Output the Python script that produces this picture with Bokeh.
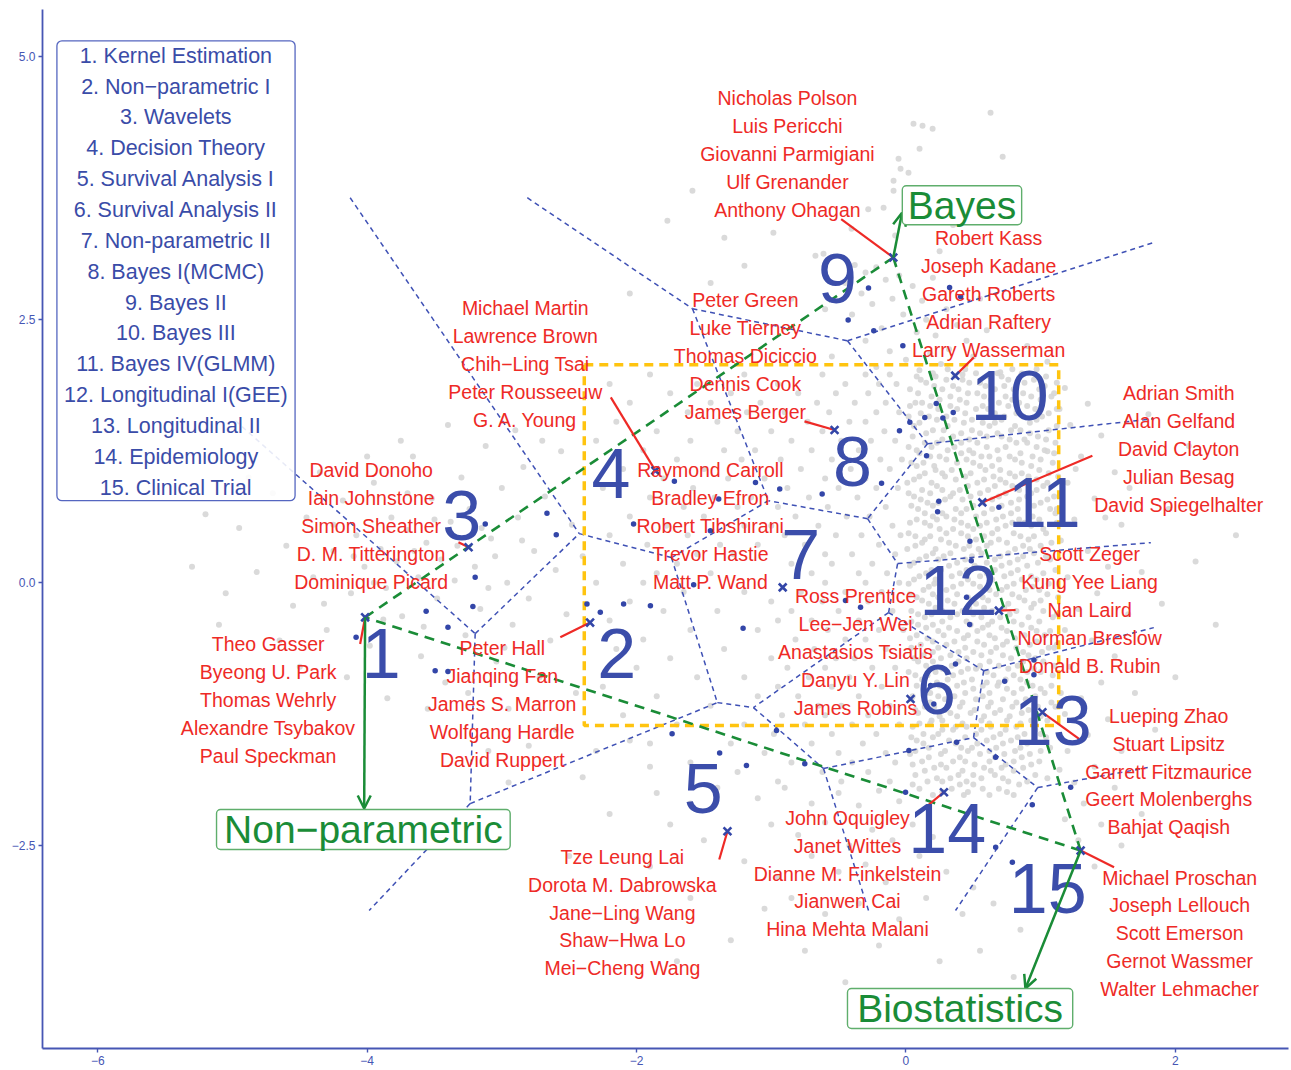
from bokeh.plotting import figure
from bokeh.models import FixedTicker, BoxAnnotation, Arrow, OpenHead
from bokeh.core.properties import value
from bokeh.embed import file_html
from bokeh.resources import INLINE

FONT = "Liberation Sans"
BLUE = "#3B4DAA"
AXIS_BLUE = "#4656B4"
RED = "#EE2A26"
GREEN = "#1A8C37"
GREEN_EDGE = "#5FAE6C"
GOLD = "#FFC40F"
GREY = "#D6D6D6"

# ---------------------------------------------------------------- topics
TOPICS = ["1. Kernel Estimation", "2. Non\u2212parametric I", "3. Wavelets",
          "4. Decision Theory", "5. Survival Analysis I", "6. Survival Analysis II",
          "7. Non-parametric II", "8. Bayes I(MCMC)", "9. Bayes II", "10. Bayes III",
          "11. Bayes IV(GLMM)", "12. Longitudinal I(GEE)", "13. Longitudinal II",
          "14. Epidemiology", "15. Clinical Trial"]

# cluster centres (x marks)
CENTER_X = [-4.015, -2.345, -3.247, -1.860, -1.325, 0.034, -0.915, -0.530,
            -0.094, 0.366, 0.567, 0.690, 1.013, 0.282, 1.297]
CENTER_Y = [-0.330, -0.380, 0.336, 1.065, -2.364, -1.106, -0.045, 1.452,
            3.092, 1.968, 0.763, -0.266, -1.233, -1.993, -2.548]

# big cluster numbers
NUM_X = [-3.895, -2.148, -3.298, -2.190, -1.505, 0.227, -0.781, -0.397,
         -0.509, 0.771, 1.027, 0.390, 1.090, 0.306, 1.052]
NUM_Y = [-0.670, -0.670, 0.640, 1.040, -1.955, -1.015, 0.270, 1.150,
         2.890, 1.780, 0.760, -0.075, -1.310, -2.335, -2.905]

# start of the red leader line of each author group (ends at the centre)
LEAD_X = [-4.052, -2.566, -3.322, -2.191, -1.386, 0.034, -0.915, -0.753,
          -0.481, 0.504, 1.384, 0.814, 1.285, 0.146, 1.545]
LEAD_Y = [-0.583, -0.520, 0.383, 1.761, -2.633, -1.106, -0.045, 1.533,
          3.457, 2.142, 1.207, -0.260, -1.486, -2.136, -2.706]

# top authors of each cluster
AUTHORS = [
    ["Theo Gasser", "Byeong U. Park", "Thomas Wehrly", "Alexandre Tsybakov", "Paul Speckman"],
    ["Peter Hall", "Jianqing Fan", "James S. Marron", "Wolfgang Hardle", "David Ruppert"],
    ["David Donoho", "Iain Johnstone", "Simon Sheather", "D. M. Titterington", "Dominique Picard"],
    ["Michael Martin", "Lawrence Brown", "Chih\u2212Ling Tsai", "Peter Rousseeuw", "G. A. Young"],
    ["Tze Leung Lai", "Dorota M. Dabrowska", "Jane\u2212Ling Wang", "Shaw\u2212Hwa Lo", "Mei\u2212Cheng Wang"],
    ["Ross Prentice", "Lee\u2212Jen Wei", "Anastasios Tsiatis", "Danyu Y. Lin", "James Robins"],
    ["Raymond Carroll", "Bradley Efron", "Robert Tibshirani", "Trevor Hastie", "Matt P. Wand"],
    ["Peter Green", "Luke Tierney", "Thomas Diciccio", "Dennis Cook", "James Berger"],
    ["Nicholas Polson", "Luis Pericchi", "Giovanni Parmigiani", "Ulf Grenander", "Anthony Ohagan"],
    ["Robert Kass", "Joseph Kadane", "Gareth Roberts", "Adrian Raftery", "Larry Wasserman"],
    ["Adrian Smith", "Alan Gelfand", "David Clayton", "Julian Besag", "David Spiegelhalter"],
    ["Scott Zeger", "Kung Yee Liang", "Nan Laird", "Norman Breslow", "Donald B. Rubin"],
    ["Lueping Zhao", "Stuart Lipsitz", "Garrett Fitzmaurice", "Geert Molenberghs", "Bahjat Qaqish"],
    ["John Oquigley", "Janet Wittes", "Dianne M. Finkelstein", "Jianwen Cai", "Hina Mehta Malani"],
    ["Michael Proschan", "Joseph Lellouch", "Scott Emerson", "Gernot Wassmer", "Walter Lehmacher"],
]
GROUP_X = [-4.735, -2.997, -3.970, -2.826, -2.105, -0.374, -1.452, -1.192,
           -0.880, 0.614, 2.025, 1.364, 1.951, -0.434, 2.032]
GROUP_Y = [-0.580, -0.618, 1.074, 2.614, -2.605, -0.124, 1.074, 2.690,
           4.610, 3.280, 1.806, 0.276, -1.264, -2.234, -2.804]
LINE_STEP = 0.266

# Voronoi partition of the cluster centres
VOR_X = [-4.126, -2.811, 1.855, 1.840, 1.818, 1.840, 1.795, 0.368, -0.278, -3.985,
         -4.978, -3.198, -3.235, -2.425, -1.741, -1.585, -0.434, -1.021, -0.285,
         0.160, -0.062, -0.129, 0.577, -1.132, -1.400, -0.612, 0.502, 0.978]
VOR_Y = [3.660, 3.660, 3.241, 1.559, 0.380, -0.428, -1.759, -3.118, -3.118, -3.118,
         1.540, -0.485, -2.101, 0.466, 0.238, 2.605, 2.300, 0.779, 0.608,
         1.321, 0.181, -0.285, -0.837, -1.188, -1.141, -1.768, -1.473, -1.949]
VOR_FROM = [0, 1, 10, 11, 11, 12, 12, 13, 14, 14, 15, 15, 16, 16, 19, 19,
            18, 18, 20, 20, 21, 21, 22, 22, 24, 23, 25, 25, 26, 27, 27]
VOR_TO = [13, 15, 11, 13, 12, 9, 24, 14, 17, 24, 16, 17, 2, 19, 3, 18,
          17, 20, 4, 21, 23, 22, 5, 26, 23, 25, 26, 8, 27, 6, 7]

# field triangle: Non-parametric / Bayes / Biostatistics corners
TRIANGLE = [0, 8, 14]

# highlighted region
BOX_LEFT, BOX_RIGHT, BOX_TOP, BOX_BOTTOM = -2.388, 1.134, 2.072, -1.359

# prominent authors (blue dots)
AUTHOR_PTS = [
    (-3.123, 0.558), (-2.665, 0.659), (-2.596, 0.456), (-3.198, 0.050), (-3.215, -0.228),
    (-3.562, -0.273), (-3.400, -0.425), (-4.082, -0.520), (-3.495, -0.837), (-3.400, -0.846),
    (-2.368, -0.202), (-2.269, -0.282), (-2.096, -0.202), (-1.897, -0.221), (-1.209, -0.434),
    (-1.719, 0.963), (-1.390, 0.796), (-1.117, 0.953), (-0.937, 0.891), (-0.622, 0.843),
    (-2.022, 0.558), (-1.452, 0.494), (-1.576, -0.019), (-0.181, 0.944), (-0.048, 1.445),
    (0.029, 1.524), (0.140, 1.571), (0.225, 1.704), (0.274, 1.566), (0.351, 1.619),
    (-0.023, 2.253), (0.153, 1.207), (0.244, 0.773), (0.235, 0.675), (0.690, 0.716),
    (0.475, 0.393), (0.485, 0.209), (0.450, -0.140), (0.473, -0.399), (-0.337, -0.235),
    (-0.449, -0.171), (0.368, -0.773), (0.207, -1.153), (0.183, -0.979), (0.733, -0.938),
    (0.950, -0.735), (0.950, -0.877), (-1.736, -1.438), (-0.961, -1.407), (0.376, -1.518),
    (0.666, -1.661), (0.022, -1.597), (1.223, -1.946), (0.938, -2.113), (-0.003, -1.993),
    (0.666, -2.516), (0.790, -2.659), (-1.383, -1.619), (-1.184, -1.740), (-0.751, -1.723),
    (-0.278, 2.801), (-0.429, 2.497), (-0.239, 2.395), (0.324, 2.807), (0.406, 2.719),
]

# all other authors (grey cloud), dense band on the right, row by row
DENSE_ROWS = [
    (2.03, [0.31, 0.44, 0.79, 0.97]),
    (1.96, [0.08, 0.22, 0.36, 0.62, 0.71, 1.04]),
    (1.90, [0.15, 0.47, 0.55, 0.88, 1.12]),
    (1.84, [0.03, 0.27, 0.39, 0.66, 0.80, 0.99]),
    (1.77, [0.19, 0.33, 0.58, 0.74, 0.93, 1.08]),
    (1.71, [0.07, 0.12, 0.45, 0.69, 0.84]),
    (1.65, [0.24, 0.38, 0.52, 0.61, 0.96, 1.14]),
    (1.58, [0.02, 0.17, 0.30, 0.73, 0.87, 1.01]),
    (1.52, [0.10, 0.43, 0.57, 0.66, 0.92]),
    (1.45, [0.20, 0.28, 0.49, 0.78, 0.85, 1.06]),
    (1.39, [0.05, 0.35, 0.60, 0.71, 0.98]),
    (1.33, [0.14, 0.23, 0.41, 0.53, 0.82, 0.90, 1.11]),
    (1.26, [0.08, 0.31, 0.47, 0.68, 1.03]),
    (1.20, [0.18, 0.25, 0.56, 0.62, 0.77, 0.94]),
    (1.14, [0.04, 0.13, 0.38, 0.50, 0.86, 1.09]),
    (1.07, [0.22, 0.34, 0.59, 0.70, 0.99]),
    (1.01, [0.10, 0.29, 0.44, 0.65, 0.81, 0.91, 1.13]),
    (0.95, [0.01, 0.19, 0.53, 0.74, 1.05]),
    (0.88, [0.12, 0.27, 0.40, 0.61, 0.84, 0.97]),
    (0.82, [0.06, 0.33, 0.48, 0.69, 0.90, 1.10]),
    (0.76, [0.16, 0.24, 0.57, 0.78, 1.00]),
    (0.70, [0.09, 0.37, 0.45, 0.64, 0.83, 1.07]),
    (0.63, [0.20, 0.30, 0.52, 0.72, 0.94]),
    (0.57, [0.03, 0.14, 0.41, 0.60, 0.79, 0.88, 1.12]),
    (0.51, [0.25, 0.35, 0.50, 0.68, 1.02]),
    (0.44, [0.07, 0.18, 0.46, 0.58, 0.85, 0.95]),
    (0.38, [0.12, 0.32, 0.63, 0.75, 1.08]),
    (0.32, [0.01, 0.22, 0.43, 0.54, 0.81, 0.92]),
    (0.25, [0.15, 0.28, 0.49, 0.70, 0.87, 1.04]),
    (0.19, [0.06, 0.38, 0.60, 0.77, 0.98]),
    (0.12, [0.19, 0.26, 0.45, 0.66, 0.83, 1.11]),
    (0.06, [0.10, 0.34, 0.55, 0.73, 0.93]),
    (-0.01, [0.02, 0.21, 0.41, 0.50, 0.80, 1.06]),
    (-0.07, [0.13, 0.30, 0.62, 0.71, 0.89, 0.99]),
    (-0.14, [0.08, 0.24, 0.46, 0.57, 0.84, 1.13]),
    (-0.20, [0.17, 0.36, 0.52, 0.76, 0.95]),
    (-0.27, [0.04, 0.27, 0.42, 0.64, 0.82, 1.02]),
    (-0.33, [0.14, 0.33, 0.56, 0.70, 0.91, 1.09]),
    (-0.40, [0.09, 0.20, 0.48, 0.61, 0.86]),
    (-0.46, [0.24, 0.38, 0.53, 0.75, 0.97, 1.07]),
    (-0.53, [0.03, 0.16, 0.43, 0.66, 0.81]),
    (-0.59, [0.11, 0.30, 0.58, 0.72, 0.92, 1.12]),
    (-0.66, [0.20, 0.39, 0.50, 0.63, 0.87, 1.01]),
    (-0.72, [0.06, 0.26, 0.45, 0.78, 0.96]),
    (-0.79, [0.15, 0.34, 0.55, 0.69, 0.83, 1.10]),
    (-0.85, [0.02, 0.22, 0.41, 0.60, 0.90, 1.00]),
    (-0.92, [0.12, 0.31, 0.49, 0.74, 0.85]),
    (-0.98, [0.08, 0.25, 0.38, 0.57, 0.68, 0.94, 1.08]),
    (-1.05, [0.18, 0.44, 0.62, 0.80, 1.03]),
    (-1.11, [0.04, 0.29, 0.52, 0.72, 0.89]),
    (-1.18, [0.14, 0.21, 0.40, 0.61, 0.79, 0.98, 1.11]),
    (-1.24, [0.09, 0.33, 0.48, 0.66, 0.86]),
    (-1.31, [0.19, 0.27, 0.56, 0.75, 0.93, 1.05]),
    (-1.37, [0.05, 0.37, 0.45, 0.63, 0.82]),
    (-1.44, [0.13, 0.24, 0.52, 0.70, 0.88, 1.00]),
    (-1.50, [0.08, 0.32, 0.60, 0.78, 0.95]),
    (-1.57, [0.17, 0.41, 0.49, 0.67, 0.85, 1.07]),
    (-1.63, [0.03, 0.26, 0.55, 0.73, 0.92]),
    (-1.70, [0.12, 0.35, 0.44, 0.62, 0.80, 0.99]),
    (-1.76, [0.21, 0.30, 0.58, 0.71, 0.87]),
    (-1.83, [0.07, 0.39, 0.50, 0.66, 0.96]),
    (-1.89, [0.16, 0.27, 0.45, 0.76, 0.90]),
    (-1.96, [0.10, 0.34, 0.57, 0.69]),
    (-2.02, [0.20, 0.43, 0.62, 0.80]),
]

# second, interleaved layer of the dense band
DENSE_ROWS_B = [
    (1.99, [0.20, 0.52, 0.68, 0.86]),
    (1.93, [0.11, 0.30, 0.42, 0.76, 0.95]),
    (1.87, [0.21, 0.35, 0.59, 0.73, 1.03]),
    (1.80, [0.09, 0.46, 0.53, 0.87, 1.10]),
    (1.74, [0.25, 0.40, 0.63, 0.79, 1.00]),
    (1.68, [0.03, 0.18, 0.33, 0.57, 0.76, 0.90]),
    (1.61, [0.11, 0.44, 0.66, 0.82, 1.06]),
    (1.55, [0.23, 0.36, 0.49, 0.71, 0.97]),
    (1.49, [0.06, 0.31, 0.62, 0.81, 1.12]),
    (1.42, [0.15, 0.41, 0.55, 0.68, 0.92]),
    (1.36, [0.27, 0.47, 0.77, 0.88, 1.04]),
    (1.29, [0.02, 0.19, 0.36, 0.60, 0.74, 0.97]),
    (1.23, [0.10, 0.41, 0.50, 0.85, 1.10]),
    (1.17, [0.30, 0.45, 0.69, 0.81, 1.00]),
    (1.11, [0.08, 0.21, 0.55, 0.64, 0.93]),
    (1.04, [0.14, 0.27, 0.48, 0.77, 0.86, 1.06]),
    (0.98, [0.06, 0.37, 0.58, 0.70, 0.97]),
    (0.92, [0.23, 0.46, 0.66, 0.79, 1.02]),
    (0.85, [0.02, 0.18, 0.35, 0.55, 0.74, 0.93]),
    (0.79, [0.11, 0.29, 0.42, 0.64, 0.84, 1.05]),
    (0.73, [0.04, 0.20, 0.50, 0.71, 0.95]),
    (0.66, [0.14, 0.27, 0.41, 0.58, 0.78, 1.11]),
    (0.60, [0.08, 0.23, 0.36, 0.67, 0.84, 0.99]),
    (0.54, [0.18, 0.46, 0.55, 0.74, 0.93]),
    (0.47, [0.02, 0.30, 0.41, 0.64, 0.80, 1.04]),
    (0.41, [0.14, 0.26, 0.52, 0.69, 0.91]),
    (0.35, [0.07, 0.37, 0.47, 0.60, 0.87, 1.00]),
    (0.28, [0.20, 0.33, 0.56, 0.76, 0.95]),
    (0.22, [0.10, 0.24, 0.44, 0.66, 0.83, 1.07]),
    (0.16, [0.03, 0.32, 0.51, 0.71, 0.90]),
    (0.09, [0.15, 0.40, 0.60, 0.78, 1.02]),
    (0.03, [0.06, 0.22, 0.46, 0.64, 0.86, 0.97]),
    (-0.04, [0.17, 0.35, 0.55, 0.75, 0.94]),
    (-0.11, [0.03, 0.20, 0.38, 0.67, 0.79, 1.05]),
    (-0.17, [0.12, 0.31, 0.61, 0.88, 1.00]),
    (-0.24, [0.22, 0.47, 0.58, 0.73, 0.93]),
    (-0.30, [0.09, 0.19, 0.38, 0.50, 0.77, 1.12]),
    (-0.37, [0.04, 0.27, 0.45, 0.64, 0.80, 0.99]),
    (-0.43, [0.15, 0.32, 0.57, 0.71, 0.93]),
    (-0.50, [0.08, 0.28, 0.46, 0.62, 0.88, 1.03]),
    (-0.56, [0.20, 0.36, 0.53, 0.75, 0.97]),
    (-0.62, [0.04, 0.24, 0.44, 0.67, 0.82, 1.06]),
    (-0.69, [0.13, 0.33, 0.56, 0.72, 0.91]),
    (-0.75, [0.09, 0.20, 0.39, 0.62, 0.87, 1.02]),
    (-0.82, [0.27, 0.46, 0.52, 0.76, 0.95]),
    (-0.88, [0.07, 0.16, 0.35, 0.65, 0.80, 1.09]),
    (-0.95, [0.23, 0.43, 0.60, 0.69, 0.90]),
    (-1.01, [0.13, 0.31, 0.50, 0.75, 0.86, 1.00]),
    (-1.08, [0.05, 0.24, 0.36, 0.57, 0.96]),
    (-1.14, [0.18, 0.42, 0.63, 0.82, 1.08]),
    (-1.21, [0.07, 0.29, 0.51, 0.70, 0.91]),
    (-1.27, [0.25, 0.38, 0.58, 0.77, 1.00]),
    (-1.34, [0.10, 0.18, 0.42, 0.62, 0.85]),
    (-1.40, [0.27, 0.35, 0.56, 0.74, 0.96]),
    (-1.47, [0.04, 0.20, 0.44, 0.65, 0.83, 1.04]),
    (-1.53, [0.13, 0.37, 0.53, 0.72, 0.90]),
    (-1.60, [0.07, 0.29, 0.46, 0.62, 0.81, 1.00]),
    (-1.66, [0.17, 0.40, 0.66, 0.86]),
    (-1.73, [0.05, 0.26, 0.51, 0.74, 0.93]),
    (-1.79, [0.14, 0.42, 0.63, 0.80]),
    (-1.86, [0.23, 0.33, 0.56, 0.72, 1.05]),
    (-1.92, [0.05, 0.40, 0.50, 0.84]),
    (-1.99, [0.27, 0.46, 0.75]),
]

# grey cloud, central region
CENTRAL_ROWS = [
    (1.98, [-1.90, -1.20, -0.62, -0.30, -0.12]),
    (1.89, [-2.20, -1.55, -0.95, -0.45, -0.20, -0.07]),
    (1.80, [-1.75, -1.30, -0.80, -0.52, -0.28]),
    (1.71, [-2.05, -1.45, -1.08, -0.66, -0.38, -0.15]),
    (1.62, [-1.62, -1.18, -0.90, -0.57, -0.22, -0.05]),
    (1.53, [-2.15, -1.40, -0.73, -0.42, -0.30]),
    (1.44, [-1.85, -1.25, -1.00, -0.62, -0.16]),
    (1.35, [-2.30, -1.60, -0.85, -0.48, -0.26, -0.08]),
    (1.26, [-1.95, -1.35, -1.12, -0.70, -0.35]),
    (1.17, [-1.70, -1.22, -0.93, -0.55, -0.19, -0.03]),
    (1.08, [-2.10, -1.50, -0.78, -0.41, -0.12]),
    (0.99, [-1.80, -1.32, -1.05, -0.60, -0.30]),
    (0.90, [-2.25, -1.58, -0.88, -0.50, -0.22, -0.06]),
    (0.81, [-1.90, -1.42, -1.15, -0.72, -0.36]),
    (0.72, [-1.65, -1.25, -0.95, -0.58, -0.15]),
    (0.63, [-2.05, -1.50, -0.82, -0.44, -0.27]),
    (0.54, [-1.78, -1.20, -1.00, -0.65, -0.10]),
    (0.45, [-2.20, -1.62, -0.90, -0.52, -0.33, -0.04]),
    (0.36, [-1.92, -1.38, -1.10, -0.75, -0.20]),
    (0.27, [-1.55, -1.28, -0.60, -0.40, -0.08]),
    (0.18, [-2.10, -1.70, -0.85, -0.55, -0.25]),
    (0.09, [-1.85, -1.45, -0.70, -0.35, -0.14]),
    (0.00, [-2.30, -1.95, -0.60, -0.30, -0.05]),
    (-0.09, [-1.65, -1.20, -0.78, -0.45, -0.18]),
    (-0.18, [-2.05, -1.00, -0.62, -0.28]),
    (-0.27, [-1.80, -1.40, -0.85, -0.50, -0.10]),
    (-0.36, [-2.20, -0.95, -0.70, -0.35]),
    (-0.45, [-1.60, -1.10, -0.58, -0.20, -0.02]),
    (-0.54, [-1.95, -0.82, -0.45, -0.30]),
    (-0.63, [-2.15, -1.35, -0.68, -0.15]),
    (-0.72, [-1.75, -1.00, -0.52, -0.38]),
    (-0.81, [-2.00, -0.88, -0.60, -0.25, -0.08]),
    (-0.90, [-1.55, -1.20, -0.72, -0.42]),
    (-0.99, [-2.25, -0.95, -0.55, -0.18]),
    (-1.08, [-1.85, -1.10, -0.80, -0.35]),
    (-1.17, [-1.45, -0.65, -0.48, -0.12]),
    (-1.26, [-2.10, -0.92, -0.60, -0.28]),
    (-1.35, [-1.70, -1.20, -0.75, -0.40, -0.05]),
    (-1.44, [-0.98, -0.55, -0.22]),
    (-1.53, [-1.90, -1.30, -0.70, -0.32]),
    (-1.62, [-1.05, -0.50, -0.15]),
    (-1.71, [-1.60, -0.85, -0.40, -0.08]),
    (-1.80, [-1.25, -0.62, -0.28]),
    (-1.89, [-0.95, -0.48, -0.12]),
]

# grey cloud, scattered parts
SCATTER_PTS = [
    # left (kernel / wavelets)
    (-4.95, 0.52), (-4.70, 0.85), (-4.82, 0.10), (-4.60, 0.35), (-4.55, -0.22), (-4.45, 0.62),
    (-4.40, 0.05), (-4.35, 1.05), (-4.30, -0.45), (-4.25, 0.30), (-4.18, 0.78), (-4.12, -0.10),
    (-4.08, 0.45), (-4.02, 0.15), (-3.98, -0.60), (-3.95, 0.95), (-3.90, 0.32), (-3.86, -0.05),
    (-3.82, 0.62), (-3.78, 0.20), (-3.74, -0.32), (-3.70, 0.50), (-3.66, 1.20), (-3.62, 0.05),
    (-3.60, -0.70), (-3.56, 0.38), (-3.52, 0.80), (-3.48, -0.15), (-3.45, 0.22), (-3.42, -0.95),
    (-3.38, 0.58), (-3.35, 0.02), (-3.30, 1.00), (-3.27, -0.50), (-3.24, 0.70), (-3.20, 0.15),
    (-3.16, -0.25), (-3.12, 1.30), (-3.08, 0.42), (-3.04, -0.75), (-3.00, 0.90), (-2.96, 0.00),
    (-2.92, -0.40), (-2.88, 0.62), (-2.84, 1.10), (-2.80, -0.15), (-2.76, 0.30), (-2.72, -0.90),
    (-2.68, 0.82), (-2.64, -0.55), (-2.60, 0.12), (-2.56, 1.25), (-2.52, -0.30), (-2.48, 0.55),
    (-2.45, -1.05), (-2.40, 0.25), (-4.50, -0.80), (-4.15, -0.90), (-3.85, -1.10), (-3.55, -1.20),
    (-3.25, -1.05), (-2.95, -1.20), (-4.65, -0.55), (-5.05, -0.10), (-5.20, 0.65), (-4.88, 1.00),
    (-3.75, 1.35), (-3.40, 1.50), (-2.90, 1.45), (-2.70, 1.35), (-4.00, 1.20), (-4.25, 0.55),
    (-3.95, 0.00), (-3.65, 0.30), (-3.58, -0.42), (-3.33, 0.35), (-3.10, -0.05), (-3.05, 0.25),
    (-2.85, 0.40), (-3.70, 0.85), (-4.10, 0.25), (-4.32, -0.20), (-3.88, -0.35), (-3.50, 0.60),
    (-3.15, 0.52), (-2.98, -0.62), (-5.30, 0.15), (-5.10, -0.40),
    # top (Bayes)
    (0.628, 4.468), (0.056, 4.363), (0.123, 4.344), (0.198, 4.316), (0.101, 4.125),
    (-0.055, 4.030), (0.718, 4.049), (-0.040, 3.935), (0.019, 3.897), (-0.092, 3.821),
    (-0.092, 3.726), (-0.166, 3.565), (-1.585, 3.726), (-0.404, 3.365), (-0.984, 3.327),
    (-1.348, 3.279), (-1.199, 3.013), (-1.771, 3.441), (-0.672, 3.108), (-0.612, 3.127),
    (-0.38, 3.02), (-0.30, 2.95), (-0.22, 3.00), (-0.45, 2.85), (-0.15, 2.88), (-0.33, 2.75),
    (-0.05, 2.92), (0.05, 2.82), (-0.25, 2.65), (-0.10, 2.70), (0.12, 2.68), (0.20, 2.90),
    (-0.40, 2.55), (-0.02, 2.55), (0.15, 2.50), (0.30, 2.60), (-0.18, 2.42), (0.08, 2.38),
    (0.22, 2.35), (0.38, 2.45), (-0.30, 2.30), (-0.12, 2.20), (0.00, 2.12), (0.18, 2.18),
    (0.32, 2.22), (0.45, 2.30), (-0.22, 2.05), (0.10, 2.02), (0.26, 2.08), (0.50, 2.15),
    (0.60, 2.40), (0.70, 2.00), (0.42, 1.98), (-0.55, 2.15), (-0.60, 2.60), (0.55, 2.70),
    (0.25, 3.15), (-0.08, 3.30), (0.35, 3.40), (-0.28, 3.55), (0.90, 2.25), (1.05, 2.10),
    (-2.05, 2.75), (-1.45, 2.85), (-0.85, 2.70),
    # bottom (survival / epidemiology)
    (-1.85, -2.00), (-1.60, -2.10), (-1.40, -1.95), (-1.10, -2.05), (-0.90, -1.95), (-0.70, -2.10),
    (-0.50, -2.00), (-0.35, -2.12), (-0.20, -1.98), (-0.05, -2.08), (-1.75, -2.30), (-1.50, -2.45),
    (-1.00, -2.30), (-0.80, -2.40), (-0.60, -2.28), (-0.42, -2.50), (-0.25, -2.35), (-0.10, -2.45),
    (0.05, -2.30), (0.20, -2.42), (-1.90, -2.70), (-1.20, -2.65), (-0.95, -2.80), (-0.70, -2.60),
    (-0.50, -2.75), (-0.30, -2.68), (-0.15, -2.85), (0.10, -2.60), (0.30, -2.75), (0.50, -2.90),
    (-1.60, -3.00), (-1.05, -3.10), (-0.85, -3.00), (-0.60, -3.15), (-0.35, -3.05), (-0.05, -3.20),
    (0.15, -3.00), (0.42, -3.15), (0.65, -3.05), (0.85, -3.30), (-1.30, -3.40), (-0.75, -3.50),
    (-0.20, -3.45), (0.25, -3.60), (0.55, -3.50), (-1.70, -3.60), (-0.45, -3.80), (0.80, -3.75),
    (1.00, -3.95), (-2.20, -2.20), (-2.50, -2.60), (-2.00, -3.20), (-2.60, -1.40), (-2.30, -1.60),
    (-2.05, -1.50), (-1.90, -1.75), (-2.40, -1.85), (-2.80, -1.55), (-2.95, -1.90), (-3.10, -1.60),
    # right (longitudinal / clinical trials)
    (1.18, 1.85), (1.35, 1.70), (1.22, 1.50), (1.45, 1.40), (1.30, 1.20), (1.55, 1.05),
    (1.20, 0.95), (1.40, 0.80), (1.25, 0.60), (1.60, 0.55), (1.15, 0.40), (1.35, 0.30),
    (1.50, 0.15), (1.20, 0.05), (1.42, -0.10), (1.28, -0.25), (1.65, -0.30), (1.18, -0.45),
    (1.38, -0.55), (1.55, -0.70), (1.22, -0.80), (1.45, -0.95), (1.30, -1.10), (1.70, -1.05),
    (1.18, -1.25), (1.50, -1.30), (1.35, -1.45), (1.20, -1.60), (1.60, -1.60), (1.40, -1.75),
    (1.25, -1.90), (1.55, -1.95), (1.32, -2.10), (1.18, -2.25), (1.45, -2.30), (1.28, -2.45),
    (1.60, -2.50), (1.40, -2.70), (1.75, -2.20), (1.85, -1.40), (2.00, -0.90), (1.90, -0.20),
    (2.15, 0.20), (1.95, 0.70), (2.10, 1.30), (1.80, 1.60), (2.30, -0.40), (2.45, 0.45),
    (1.12, 1.65), (1.15, -1.05), (1.12, 0.70), (1.10, -0.62), (1.14, -1.78), (1.26, 1.08),
    (1.48, 0.62), (1.66, 0.90), (1.75, 0.10), (1.05, 1.25),
]

# the three fields: name, box (left, right, top, bottom), text centre x and y
FIELDS = [
    ("Non\u2212parametric", (-5.118, -2.938, -2.158, -2.538), -4.028, -2.343),
    ("Bayes", (-0.027, 0.859, 3.774, 3.403), 0.416, 3.584),
    ("Biostatistics", (-0.434, 1.238, -3.859, -4.240), 0.402, -4.052),
]
# arrow tips at the field boxes
ARROW_END = [(-4.022, -2.148), (-0.029, 3.517), (0.887, -3.859)]

# ---------------------------------------------------------------- figure
p = figure(width=1291, height=1070, x_range=(-6.41, 2.84), y_range=(-4.43, 5.45),
           output_backend="svg", toolbar_location=None,
           min_border_left=42, min_border_right=3, min_border_top=9, min_border_bottom=22)
p.outline_line_color = None
p.xgrid.visible = False
p.ygrid.visible = False
p.background_fill_color = "white"
p.border_fill_color = "white"

p.xaxis.ticker = FixedTicker(ticks=[-6, -4, -2, 0, 2])
p.yaxis.ticker = FixedTicker(ticks=[-2.5, 0, 2.5, 5])
p.xaxis.major_label_overrides = {-6: "\u22126", -4: "\u22124", -2: "\u22122", 0: "0", 2: "2"}
p.yaxis.major_label_overrides = {-2.5: "\u22122.5", 0: "0.0", 2.5: "2.5", 5: "5.0"}
for ax in (p.xaxis[0], p.yaxis[0]):
    ax.axis_line_color = AXIS_BLUE
    ax.axis_line_width = 1.8
    ax.major_tick_line_color = AXIS_BLUE
    ax.major_tick_line_width = 1.4
    ax.major_tick_in = 0
    ax.major_tick_out = 4
    ax.minor_tick_line_color = None
    ax.major_label_text_color = AXIS_BLUE
    ax.major_label_text_font = FONT
    ax.major_label_text_font_size = "12px"
    ax.major_label_standoff = 3

# grey cloud
gx, gy = [], []
for rows in (DENSE_ROWS, DENSE_ROWS_B, CENTRAL_ROWS):
    for yv, xs in rows:
        gx.extend(xs)
        gy.extend([yv] * len(xs))
gx.extend(pt[0] for pt in SCATTER_PTS)
gy.extend(pt[1] for pt in SCATTER_PTS)
p.scatter(gx, gy, size=6, color=GREY, alpha=0.9, line_color=None)

# Voronoi cells
p.segment(x0=[VOR_X[i] for i in VOR_FROM], y0=[VOR_Y[i] for i in VOR_FROM],
          x1=[VOR_X[j] for j in VOR_TO], y1=[VOR_Y[j] for j in VOR_TO],
          line_color="#3F51B5", line_width=1.5, line_dash="5 4")

# highlighted rectangle
p.line([BOX_LEFT, BOX_RIGHT, BOX_RIGHT, BOX_LEFT, BOX_LEFT],
       [BOX_TOP, BOX_TOP, BOX_BOTTOM, BOX_BOTTOM, BOX_TOP],
       line_color=GOLD, line_width=3.5, line_dash="9 6")

# field triangle
tri_to = TRIANGLE[1:] + TRIANGLE[:1]
p.segment(x0=[CENTER_X[i] for i in TRIANGLE], y0=[CENTER_Y[i] for i in TRIANGLE],
          x1=[CENTER_X[j] for j in tri_to], y1=[CENTER_Y[j] for j in tri_to],
          line_color=GREEN, line_width=2.6, line_dash="10 7")

# authors
p.scatter([pt[0] for pt in AUTHOR_PTS], [pt[1] for pt in AUTHOR_PTS],
          size=5.5, color="#3346A8", line_color=None)

# leader lines and centres
p.segment(x0=LEAD_X, y0=LEAD_Y, x1=CENTER_X, y1=CENTER_Y, line_color=RED, line_width=2.2)
p.scatter(CENTER_X, CENTER_Y, marker="x", size=11, line_width=2.6, line_color="#3346A8")

# author names
nx, ny, nt = [], [], []
for k, names in enumerate(AUTHORS):
    for i, nm in enumerate(names):
        nx.append(GROUP_X[k])
        ny.append(GROUP_Y[k] - i * LINE_STEP)
        nt.append(nm)
p.text(x=nx, y=ny, text=nt, text_color=RED, text_font=value(FONT),
       text_font_size="19.5px", text_align="center", text_baseline="middle")

# cluster numbers
p.text(x=NUM_X, y=NUM_Y, text=[str(i + 1) for i in range(len(NUM_X))],
       text_color=BLUE, text_font=value(FONT), text_font_size="70px",
       text_align="center", text_baseline="middle")

# arrows to the three fields
for idx, (ex, ey) in zip(TRIANGLE, ARROW_END):
    p.add_layout(Arrow(end=OpenHead(size=13, line_color=GREEN, line_width=2.5),
                       x_start=CENTER_X[idx], y_start=CENTER_Y[idx], x_end=ex, y_end=ey,
                       line_color=GREEN, line_width=2.5))

# field boxes and their names
for txt, (bl, br, bt, bb), tx, ty in FIELDS:
    p.add_layout(BoxAnnotation(left=bl, right=br, top=bt, bottom=bb,
                               fill_color="white", fill_alpha=1.0,
                               line_color=GREEN_EDGE, line_alpha=1.0, line_width=1.4,
                               border_radius=4))
p.text(x=[f[2] for f in FIELDS], y=[f[3] for f in FIELDS], text=[f[0] for f in FIELDS],
       text_color=GREEN, text_font=value(FONT), text_font_size="39px",
       text_align="center", text_baseline="middle", level="overlay")

# topic legend
p.add_layout(BoxAnnotation(left=-6.303, right=-4.535, top=5.152, bottom=0.779,
                           fill_color="white", fill_alpha=0.88,
                           line_color="#5566C0", line_alpha=1.0, line_width=1.3,
                           border_radius=5))
p.text(x=[-5.42] * len(TOPICS), y=[5.010 - 0.2933 * i for i in range(len(TOPICS))],
       text=TOPICS, text_color="#3A4CA8", text_font=value(FONT), text_font_size="21.5px",
       text_align="center", text_baseline="middle", level="overlay")

open("out.html", "w").write(file_html(p, INLINE))
